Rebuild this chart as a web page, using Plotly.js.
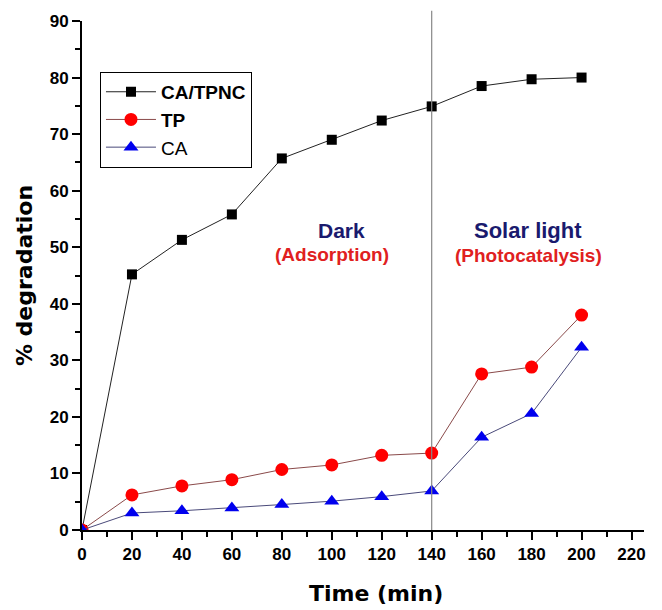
<!DOCTYPE html>
<html>
<head>
<meta charset="utf-8">
<script src="https://cdn.plot.ly/plotly-3.0.1.min.js"></script>
<style>html,body{margin:0;padding:0;background:#fff;}#chart{width:662px;height:610px;}</style>
</head>
<body>
<div id="chart"></div>
<script>
const time = [0, 20, 40, 60, 80, 100, 120, 140, 160, 180, 200];
const caTpnc = [0, 45.2, 51.3, 55.8, 65.7, 69.0, 72.4, 74.9, 78.5, 79.7, 80.0];
const tp = [0, 6.2, 7.8, 8.9, 10.7, 11.5, 13.2, 13.6, 27.6, 28.8, 38.0];
const ca = [0, 3.0, 3.4, 3.9, 4.5, 5.1, 5.9, 6.9, 16.4, 20.6, 32.3];
const seriesNames = ['<b>CA/TPNC</b>', '<b>TP</b>', 'CA'];
const xTicks = [0, 20, 40, 60, 80, 100, 120, 140, 160, 180, 200, 220];
const yTicks = [0, 10, 20, 30, 40, 50, 60, 70, 80, 90];
const dividerTime = 140;

const traces = [
  {x: time, y: caTpnc, name: seriesNames[0], mode: 'lines+markers',
   line: {color: '#222', width: 1}, marker: {symbol: 'square', size: 10, color: '#000'}},
  {x: time, y: tp, name: seriesNames[1], mode: 'lines+markers',
   line: {color: '#8a4a4a', width: 1}, marker: {symbol: 'circle', size: 13, color: '#ff0000'}},
  {x: time, y: ca, name: seriesNames[2], mode: 'lines+markers',
   line: {color: '#4a4a7a', width: 1}, marker: {symbol: 'triangle-up', size: 13, color: '#0000ee'}}
];

const tickFont = {size: 17, family: 'Liberation Sans, Arial, sans-serif', weight: 'bold', color: '#000'};
const titleFont = {size: 22, family: 'DejaVu Sans, sans-serif', color: '#000'};

const layout = {
  width: 662, height: 610,
  margin: {l: 82, r: 18, t: 21, b: 80},
  paper_bgcolor: '#fff', plot_bgcolor: '#fff',
  font: {family: 'Liberation Sans, Arial, sans-serif', color: '#000'},
  showlegend: true,
  legend: {x: 0.032, y: 0.9, xanchor: 'left', yanchor: 'top', bordercolor: '#000', borderwidth: 1,
           bgcolor: '#fff', font: {size: 19, color: '#000'}, itemwidth: 50, tracegroupgap: 0},
  xaxis: {
    range: [0, 225], tickmode: 'array', tickvals: xTicks,
    ticks: 'outside', ticklen: 8, tickwidth: 2, tickcolor: '#000',
    showline: true, linecolor: '#000', linewidth: 2, showgrid: false, zeroline: false,
    tickfont: tickFont,
    minor: {dtick: 10, tick0: 0, ticks: 'outside', ticklen: 5, tickwidth: 2, tickcolor: '#000', showgrid: false}
  },
  yaxis: {
    range: [0, 90], tickmode: 'array', tickvals: yTicks,
    ticks: 'outside', ticklen: 8, tickwidth: 2, tickcolor: '#000',
    showline: true, linecolor: '#000', linewidth: 2, showgrid: false, zeroline: false,
    tickfont: tickFont,
    minor: {dtick: 5, tick0: 0, ticks: 'outside', ticklen: 5, tickwidth: 2, tickcolor: '#000', showgrid: false},
    title: {text: '<b>% degradation</b>', font: titleFont, standoff: 11}
  },
  shapes: [
    {type: 'line', xref: 'x', yref: 'paper', x0: dividerTime, x1: dividerTime, y0: 0, y1: 1.02,
     line: {color: '#888', width: 1.2}}
  ],
  annotations: [
    {x: 0.523, y: -0.124, xref: 'paper', yref: 'paper', xanchor: 'center', yanchor: 'middle',
     text: '<b>Time (min)</b>', showarrow: false, font: titleFont},
    {x: 104, y: 53.0, xref: 'x', yref: 'y', text: '<b>Dark</b>', showarrow: false,
     font: {size: 21, color: '#1a1a6e'}},
    {x: 100, y: 48.8, xref: 'x', yref: 'y', text: '<b>(Adsorption)</b>', showarrow: false,
     font: {size: 19, color: '#e02020'}},
    {x: 178.4, y: 53.0, xref: 'x', yref: 'y', text: '<b>Solar light</b>', showarrow: false,
     font: {size: 22, color: '#1a1a6e'}},
    {x: 178.8, y: 48.6, xref: 'x', yref: 'y', text: '<b>(Photocatalysis)</b>', showarrow: false,
     font: {size: 19, color: '#e02020'}}
  ]
};

Plotly.newPlot('chart', traces, layout, {displayModeBar: false, staticPlot: true});
</script>
</body>
</html>
